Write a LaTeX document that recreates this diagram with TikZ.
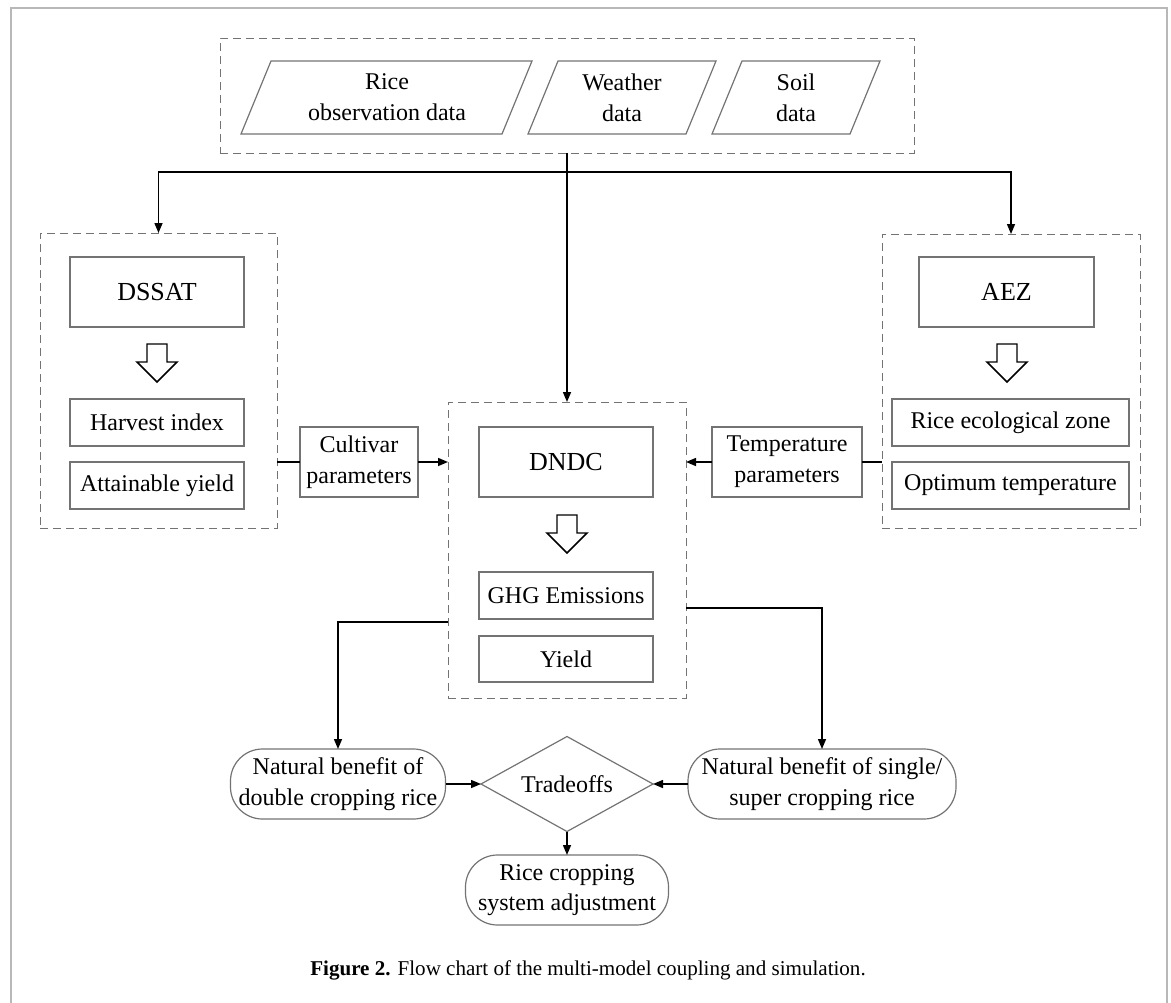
\documentclass[tikz,border=0pt]{standalone}
\usepackage{fontspec}
\setmainfont{Liberation Serif}
\usetikzlibrary{arrows.meta,shapes.geometric,calc}
\newcommand\hollowdown[2]{\draw[hollow] (#1-10,#2) -- (#1+10,#2) -- (#1+10,#2+18) -- (#1+20,#2+18) -- (#1,#2+38) -- (#1-20,#2+18) -- (#1-10,#2+18) -- cycle;}
\begin{document}
\begin{tikzpicture}[x=0.75pt,y=-0.75pt,
  every node/.style={inner sep=0pt, outer sep=0pt},
  wh/.style 2 args={minimum width=#1*0.75pt, minimum height=#2*0.75pt},
  dashbox/.style={draw=black!55, dash pattern=on 6pt off 3.75pt, line width=0.7pt, rectangle},
  sbox/.style={draw=black!55, line width=0.9pt, rectangle, align=center, font=\fontsize{18}{23}\selectfont},
  mbox/.style={sbox, font=\fontsize{19.5}{24}\selectfont},
  rbox/.style={sbox, rounded corners=24pt},
  conn/.style={draw=black, line width=1.1pt},
  arr/.style={conn, -{Triangle[length=7.5pt,width=6pt]}},
  hollow/.style={draw=black, line width=1.1pt, fill=white, line join=miter},
  para/.style={draw=black!55, line width=0.9pt},
  ptext/.style={align=center, font=\fontsize{18}{23}\selectfont},
]
\useasboundingbox (0,0) rectangle (1171,1003);
% outer frame (open at bottom)
\draw[black!28, line width=1.2pt] (11,1003) -- (11,8) -- (1167,8) -- (1167,1003);

% top input box
\node[dashbox, wh={694}{115}] (topbox) at (567,95.5) {};
\draw[para] (241,134) -- (271,61) -- (532,61) -- (502,134) -- cycle;
\node[ptext] (rice) at (387,97.5) {Rice\\observation data};
\draw[para] (528,134) -- (558,61) -- (716,61) -- (686,134) -- cycle;
\node[ptext] (weather) at (622,97.5) {Weather\\data};
\draw[para] (712,134) -- (742,61) -- (880,61) -- (850,134) -- cycle;
\node[ptext] (soil) at (796,97.5) {Soil\\data};

% model group boxes
\node[dashbox, wh={237}{295}] (leftbox) at (158.5,380.5) {};
\node[dashbox, wh={258}{294}] (rightbox) at (1011,381) {};
\node[dashbox, wh={238}{296}] (centerbox) at (567,550) {};

% left column
\node[mbox, wh={174}{70}] (dssat) at (157,292) {DSSAT};
\hollowdown{157}{344}
\node[sbox, wh={174}{47}] (harvest) at (157,422.5) {Harvest index};
\node[sbox, wh={174}{47}] (attain) at (157,485.5) {Attainable yield};

% right column
\node[mbox, wh={175}{70}] (aez) at (1006.5,292) {AEZ};
\hollowdown{1007}{344}
\node[sbox, wh={237}{47}] (ecozone) at (1010.5,422.5) {Rice ecological zone};
\node[sbox, wh={237}{47}] (opttemp) at (1010.5,485.5) {Optimum temperature};

% center column
\node[mbox, wh={174}{70}] (dndc) at (566,462) {DNDC};
\hollowdown{567}{515}
\node[sbox, wh={174}{47}] (ghg) at (566,595.5) {GHG Emissions};
\node[sbox, wh={174}{46}] (yield) at (566,659) {Yield};

% parameter boxes
\node[sbox, wh={118}{70}] (cult) at (359,462) {Cultivar\\parameters};
\node[sbox, wh={150}{70}] (temp) at (787,462) {Temperature\\parameters};

% bottom
\node[rbox, wh={215}{70}] (lround) at (338,784) {Natural benefit of\\double cropping rice};
\node[rbox, wh={268}{70}] (rround) at (822,784) {Natural benefit of single/\\super cropping rice};
\node[draw=black!55, line width=0.9pt, diamond, aspect=1.8, wh={172}{95}, font=\fontsize{18}{23}\selectfont] (trade) at (567,784) {Tradeoffs};
\node[rbox, wh={203}{70}] (rcs) at (567,890) {Rice cropping\\system adjustment};

% caption
\node[font=\fontsize{15.8}{19}\selectfont] (cap) at (588,970) {\textbf{Figure 2.} Flow chart of the multi-model coupling and simulation.};

% connectors
\coordinate (hub) at (567,172);
\draw[conn] (topbox.south) -- (hub);
\draw[arr] (hub) -| (leftbox.north);
\draw[arr] (hub) -| (rightbox.north);
\draw[arr] (hub) -- (centerbox.north);
\draw[conn] (cult.west -| leftbox.east) -- (cult.west);
\draw[arr] (cult.east) -- (cult.east -| centerbox.west);
\draw[conn] (temp.east) -- (temp.east -| rightbox.west);
\draw[arr] (temp.west) -- (temp.west -| centerbox.east);
\coordinate (lout) at (448,622);
\coordinate (rout) at (686,608);
\draw[arr] (lout) -| (lround.north);
\draw[arr] (rout) -| (rround.north);
\draw[arr] (lround.east) -- (trade.west);
\draw[arr] (rround.west) -- (trade.east);
\draw[arr] (trade.south) -- (rcs.north);
\end{tikzpicture}
\end{document}
